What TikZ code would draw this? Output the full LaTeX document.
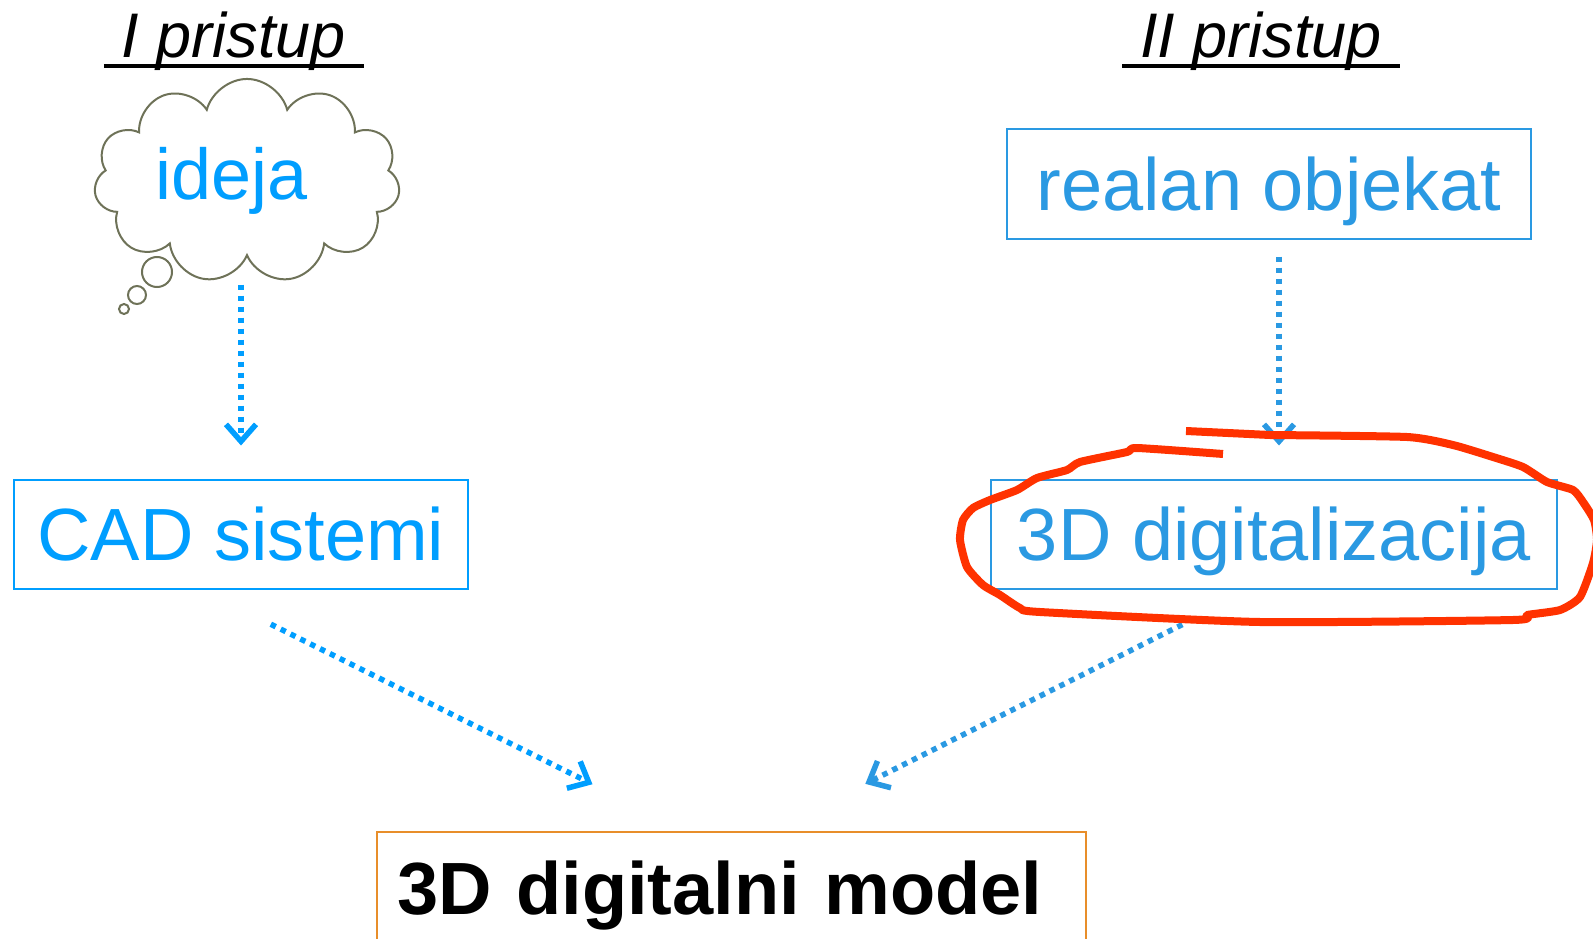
\documentclass[tikz,border=0pt]{standalone}
\usepackage{fontspec}
\setmainfont{Liberation Sans}
\usetikzlibrary{arrows.meta, shapes.symbols}
\definecolor{ideaBlue}{RGB}{0,158,255}
\definecolor{scanBlue}{RGB}{42,153,226}
\definecolor{cloudGray}{RGB}{110,114,88}
\definecolor{modelOrange}{RGB}{232,142,42}
\definecolor{markRed}{RGB}{255,50,0}

\begin{document}
\begin{tikzpicture}[x=1pt, y=-1pt, >={Straight Barb[length=17pt, width=30pt]},
  box/.style={draw, line width=2pt, minimum height=109pt, text height=53pt, text depth=0pt,
    font=\fontsize{74}{80}\selectfont},
  title/.style={anchor=base, font=\fontsize{63}{70}\selectfont\itshape, text height=45pt,
    text depth=8pt, inner ysep=0pt, inner xsep=18pt},
  uline/.style={line width=4pt},
  flow/.style={->, line width=5.5pt, dash pattern=on 5.5pt off 5.5pt}]
  \useasboundingbox (0,0) rectangle (1593,939);
  % headings of the two approaches
  \node[title] (pristupA) at (234,58) {I pristup};
  \node[title] (pristupB) at (1261,58) {II pristup};
  \draw[uline] (pristupA.south west) -- (pristupA.south east);
  \draw[uline] (pristupB.south west) -- (pristupB.south east);
  % I pristup: thought cloud
  \node[cloud, draw=cloudGray, line width=2pt, cloud puffs=11, aspect=1.75,
    minimum width=306pt, minimum height=172pt, text=ideaBlue,
    font=\fontsize{72}{80}\selectfont] (ideja) at (247,181) {ideja\hspace*{30pt}};
  \draw[cloudGray, line width=2pt] (157,272) circle (15pt) (137,295) circle (9pt)
    (124,309) circle (5pt);
  \node[box, draw=ideaBlue, text=ideaBlue, minimum width=454pt] (cad) at (241,534) {CAD sistemi};
  % II pristup
  \node[box, draw=scanBlue, text=scanBlue, minimum width=524pt] (realan) at (1269,184) {realan objekat};
  \node[box, draw=scanBlue, text=scanBlue, minimum width=566pt] (digit) at (1274,534) {3D digitalizacija};
  % result
  \node[draw=modelOrange, line width=2pt, anchor=north west, minimum width=709pt,
    minimum height=128pt, text width=669pt, inner xsep=20pt, align=left,
    font=\fontsize{74}{80}\selectfont\bfseries] (model) at (376,831) {3D digitalni model};
  % dotted arrows
  \draw[flow, ideaBlue, shorten <=27pt, shorten >=33pt] (ideja.south -| cad.north) -- (cad.north);
  \draw[flow, scanBlue, shorten <=17pt, shorten >=33pt] ([xshift=10pt]realan.south)
    -- ([xshift=10pt]realan.south |- digit.north);
  \draw[flow, ideaBlue, shorten <=78pt, shorten >=105pt] ([xshift=-40pt]cad.south)
    -- ([xshift=-45pt]model.north);
  \draw[flow, scanBlue, shorten <=78pt, shorten >=105pt] ([xshift=-22pt]digit.south)
    -- ([xshift=40pt]model.north);
  % hand-drawn mark
  \draw[markRed, line width=8pt] (1186,431) -- (1270,435);
  \draw[markRed, line width=8pt, line join=round] plot[smooth, tension=0.35] coordinates {
    (1270,435) (1407,437) (1453,445) (1493,457) (1523,467) (1547,482) (1573,490)
    (1583,502) (1594,520) (1597,540) (1593,563) (1580,597) (1560,610) (1527,615)
    (1513,620) (1260,622) (1040,612) (1020,608) (1000,595) (983,585) (967,567)
    (960,540) (963,520) (973,508) (990,500) (1017,490) (1037,478) (1067,470)
    (1080,462) (1127,452) (1137,448) (1223,454)};
\end{tikzpicture}
\end{document}
